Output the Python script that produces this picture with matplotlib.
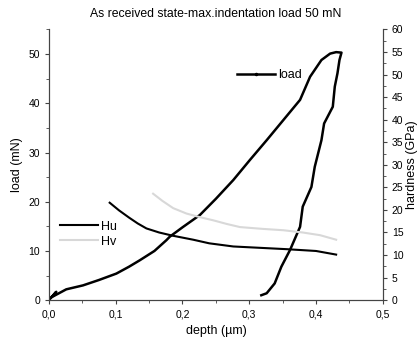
import matplotlib
matplotlib.use("Agg")
from matplotlib import pyplot as plt
from matplotlib.lines import Line2D
from matplotlib.ticker import MultipleLocator, FuncFormatter

plt.rcParams['font.family'] = ['Liberation Sans', 'DejaVu Sans']

# loading + unloading curve (depth um, load mN)
load_depth = [0.0, 0.011, 0.004, 0.026, 0.051, 0.075, 0.101, 0.12, 0.136, 0.158, 0.176, 0.181,
              0.2, 0.226, 0.25, 0.276, 0.301, 0.326, 0.351, 0.376, 0.391, 0.408, 0.421, 0.43,
              0.438, 0.435, 0.432, 0.428, 0.425, 0.412, 0.408, 0.398, 0.393, 0.38, 0.376,
              0.361, 0.348, 0.338, 0.326, 0.318]
load_mN = [0.0, 1.7, 0.6, 2.2, 3.0, 4.1, 5.4, 6.8, 8.1, 10.0, 12.2, 12.9,
           14.8, 17.3, 20.6, 24.4, 28.5, 32.5, 36.6, 40.7, 45.4, 48.8, 50.1, 50.4,
           50.3, 48.8, 46.1, 43.4, 39.3, 35.9, 32.5, 27.1, 23.0, 19.0, 14.9,
           10.2, 6.8, 3.4, 1.4, 1.0]

# hardness curves (depth um, GPa)
hu_depth = [0.091, 0.105, 0.12, 0.133, 0.146, 0.165, 0.185, 0.216, 0.24, 0.276, 0.316, 0.356, 0.40, 0.43]
hu_gpa = [21.6, 19.9, 18.3, 17.0, 15.9, 15.0, 14.3, 13.4, 12.6, 11.9, 11.6, 11.3, 10.9, 10.1]
hv_depth = [0.156, 0.17, 0.186, 0.206, 0.226, 0.246, 0.266, 0.286, 0.32, 0.351, 0.38, 0.406, 0.43]
hv_gpa = [23.6, 22.0, 20.4, 19.2, 18.4, 17.7, 16.9, 16.2, 15.8, 15.5, 15.0, 14.4, 13.4]

fig = plt.figure(figsize=(4.18, 3.47), dpi=100)
ax = fig.add_axes([0.117, 0.135, 0.799, 0.78])
ax2 = ax.twinx()

ax.plot(load_depth, load_mN, color='black', lw=1.8)
h1, = ax2.plot(hu_depth, hu_gpa, color='black', lw=1.5, label='Hu')
h2, = ax2.plot(hv_depth, hv_gpa, color='#d8d8d8', lw=1.5, label='Hv')

ax.set_xlim(0, 0.5)
ax.set_ylim(0, 55)
ax2.set_ylim(0, 60)
ax.xaxis.set_major_locator(MultipleLocator(0.1))
ax.xaxis.set_minor_locator(MultipleLocator(0.05))
ax.yaxis.set_major_locator(MultipleLocator(10))
ax.yaxis.set_minor_locator(MultipleLocator(5))
ax2.yaxis.set_major_locator(MultipleLocator(5))
ax2.yaxis.set_minor_locator(MultipleLocator(2.5))
ax.xaxis.set_major_formatter(FuncFormatter(lambda v, p: f"{v:.1f}".replace('.', ',')))

for a in (ax, ax2):
    a.spines['top'].set_visible(False)
    a.tick_params(which='both', direction='out', labelsize=7.5, color='#444444')
    a.tick_params(which='major', length=3)
    a.tick_params(which='minor', length=2)
    for s in a.spines.values():
        s.set_color('#444444')

ax.set_xlabel('depth (µm)', fontsize=9)
ax.set_ylabel('load (mN)', fontsize=9)
ax2.set_ylabel('hardness (GPa)', fontsize=9, labelpad=2)
ax.set_title('As received state-max.indentation load 50 mN', fontsize=8.8, pad=9)

# legend entry for the load curve shows a small dot marker
load_handle = Line2D([], [], color='black', lw=1.8, marker='.', ms=3)
ax.legend(handles=[load_handle], labels=['load'],
          loc='upper left', bbox_to_anchor=(0.53, 0.895), frameon=False,
          fontsize=9, handlelength=3.0, handletextpad=0.3, numpoints=1)
ax2.legend(handles=[h1, h2], loc='upper left', bbox_to_anchor=(0.0, 0.335), frameon=False,
           fontsize=9, handlelength=3.0, handletextpad=0.3, labelspacing=0.25)

fig.savefig('out.png', dpi=100)
